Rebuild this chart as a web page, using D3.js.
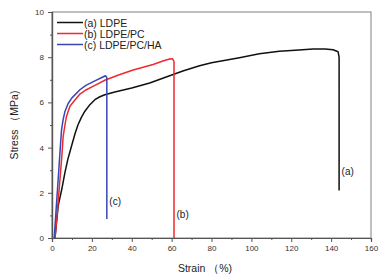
<!DOCTYPE html>
<html>
<head>
<meta charset="utf-8">
<script src="https://cdn.jsdelivr.net/npm/d3@7"></script>
<style>
  body { margin: 0; background: #fff; }
  svg { display: block; font-family: "Liberation Sans", Arial, sans-serif; }
</style>
</head>
<body>
<div id="chart"></div>
<script>
// series names + colours
const seriesNames = ["(a) LDPE", "(b) LDPE/PC", "(c) LDPE/PC/HA"];
const seriesColors = ["#111111", "#ee2a2a", "#3a45b5"];
const endLabels = ["(a)", "(b)", "(c)"];
const endLabelStress = [2.95, 1.05, 1.6]; // where the (a)/(b)/(c) tags sit

// [strain %, stress MPa]
const ldpe = [[1.5,0],[3.1,1.42],[5,2.2],[6.5,2.9],[8,3.5],[9.8,4.07],[11.5,4.6],[13,5.0],[14.8,5.35],[16.5,5.61],[19,5.9],[21.5,6.12],[24,6.25],[26.5,6.34],[31.5,6.46],[40,6.64],[49,6.86],[59,7.18],[66,7.4],[74,7.62],[80,7.75],[94,7.98],[104,8.15],[114,8.26],[122,8.31],[131,8.36],[137,8.36],[141,8.33],[143.5,8.24],[144,8.0],[144,2.1]];
const ldpePc = [[1.5,0],[2.8,1.3],[4,2.6],[5,3.7],[5.6,4.5],[6.5,5.0],[7.3,5.39],[9,5.83],[11,6.05],[14,6.37],[17,6.55],[21.5,6.75],[26.5,6.98],[33,7.2],[40.7,7.43],[50.7,7.68],[56,7.84],[59,7.92],[60.5,7.93],[61.2,7.8],[61.2,0]];
const ldpePcHa = [[1.1,0],[2.1,1.3],[3.1,2.6],[4,3.8],[4.8,4.8],[5.6,5.25],[6.5,5.6],[8.1,5.95],[10,6.2],[14,6.56],[17,6.75],[21.5,6.95],[25,7.1],[26.8,7.18],[27.5,7.1],[27.5,0.84]];
const allSeries = [ldpe, ldpePc, ldpePcHa];

const xTicks = [0, 20, 40, 60, 80, 100, 120, 140, 160];
const yTicks = [0, 2, 4, 6, 8, 10];

const width = 383, height = 280;
const margin = {left: 52, right: 12, top: 12, bottom: 42};

const svg = d3.select("#chart").append("svg")
  .attr("width", width)
  .attr("height", height);

const x = d3.scaleLinear().domain([0, 160]).range([margin.left, width - margin.right]);
const y = d3.scaleLinear().domain([0, 10]).range([height - margin.bottom, margin.top]);

// frame
svg.append("rect")
  .attr("x", x(0)).attr("y", y(10))
  .attr("width", x(160) - x(0)).attr("height", y(0) - y(10))
  .attr("fill", "none").attr("stroke", "#808080").attr("stroke-width", 1);

// x axis, major + minor ticks
svg.append("g")
  .attr("transform", `translate(0,${y(0)})`)
  .call(d3.axisBottom(x).tickValues(xTicks).tickSize(4).tickPadding(3).tickFormat(d3.format("d")));
svg.append("g")
  .attr("transform", `translate(0,${y(0)})`)
  .call(d3.axisBottom(x).tickValues(d3.range(10, 160, 20)).tickSize(2).tickFormat(""));

svg.append("g")
  .attr("transform", `translate(${x(0)},0)`)
  .call(d3.axisLeft(y).tickValues(yTicks).tickSize(4).tickPadding(4).tickFormat(d3.format("d")));
svg.append("g")
  .attr("transform", `translate(${x(0)},0)`)
  .call(d3.axisLeft(y).tickValues(d3.range(1, 10, 2)).tickSize(2).tickFormat(""));

svg.selectAll(".domain").attr("stroke", "#555").attr("stroke-width", 1.2);
svg.selectAll(".tick line").attr("stroke", "#555");
svg.selectAll(".tick text").attr("fill", "#333").style("font-size", "8px");

// curves
const lineLin = d3.line().x(d => x(d[0])).y(d => y(d[1]));

allSeries.forEach((s, i) => {
  svg.append("path")
    .datum(s)
    .attr("d", lineLin)
    .attr("fill", "none")
    .attr("stroke", seriesColors[i])
    .attr("stroke-width", 1.5)
    .attr("stroke-linejoin", "round");
});

// end labels next to the fracture lines
allSeries.forEach((s, i) => {
  const last = s[s.length - 1];
  svg.append("text")
    .attr("x", x(last[0]) + 2.5)
    .attr("y", y(endLabelStress[i]) + 3.5)
    .style("font-size", "10px")
    .attr("fill", "#222")
    .text(endLabels[i]);
});

// legend
const legend = svg.append("g").attr("transform", `translate(${x(0) + 5},${y(10) + 10.5})`);
seriesNames.forEach((name, i) => {
  const row = legend.append("g").attr("transform", `translate(0,${i * 11})`);
  row.append("line")
    .attr("x1", 0).attr("x2", 26).attr("y1", 0).attr("y2", 0)
    .attr("stroke", seriesColors[i]).attr("stroke-width", 1.5);
  row.append("text")
    .attr("x", 27).attr("y", 4)
    .style("font-size", "10.5px")
    .attr("fill", "#222")
    .text(name);
});

// axis titles
svg.append("text")
  .attr("x", 205)
  .attr("y", 272)
  .attr("text-anchor", "middle")
  .style("font-size", "10.5px")
  .attr("fill", "#222")
  .text("Strain （%)");

svg.append("text")
  .attr("transform", `translate(18,${(y(0) + y(10)) / 2}) rotate(-90)`)
  .attr("text-anchor", "middle")
  .style("font-size", "10.5px")
  .attr("fill", "#222")
  .text("Stress （MPa)");
</script>
</body>
</html>
